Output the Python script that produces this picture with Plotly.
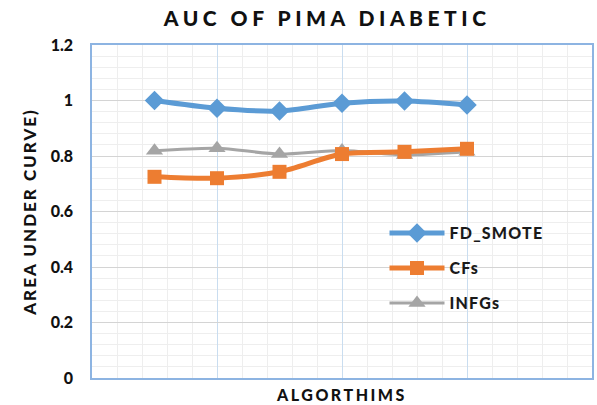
import plotly.graph_objects as go

# AUC scores per algorithm position
positions = [1, 2, 3, 4, 5, 6]
fd_smote = [1.0, 0.972, 0.962, 0.99, 0.998, 0.984]
cfs = [0.725, 0.72, 0.743, 0.807, 0.815, 0.826]
infgs = [0.819, 0.828, 0.807, 0.82, 0.804, 0.815]

y_ticks = [0, 0.2, 0.4, 0.6, 0.8, 1, 1.2]
y_tick_text = ["0", "0.2", "0.4", "0.6", "0.8", "1", "1.2"]

FONT = "Lato"
WEIGHT = 900
BLUE = "#5B9BD5"
ORANGE = "#ED7D31"
GRAY = "#A5A5A5"


def spaced(text, px):
    return f'<span style="letter-spacing:{px}px">{text}</span>'


fig = go.Figure()

fig.add_trace(go.Scatter(
    x=positions, y=infgs, name=spaced("INFGs", 1.2), mode="lines+markers",
    line=dict(color=GRAY, width=3, shape="spline", smoothing=0.8),
    marker=dict(symbol="triangle-up", size=15, color=GRAY),
    legend="legend3",
))
fig.add_trace(go.Scatter(
    x=positions, y=cfs, name=spaced("CFs", 1.2), mode="lines+markers",
    line=dict(color=ORANGE, width=5, shape="spline", smoothing=0.8),
    marker=dict(symbol="square", size=14, color=ORANGE),
    legend="legend2",
))
fig.add_trace(go.Scatter(
    x=positions, y=fd_smote, name=spaced("FD_SMOTE", 1.2), mode="lines+markers",
    line=dict(color=BLUE, width=5, shape="spline", smoothing=0.8),
    marker=dict(symbol="diamond", size=15, color=BLUE),
    legend="legend",
))

legend_common = dict(
    xanchor="left", yanchor="middle", bgcolor="rgba(0,0,0,0)",
    font=dict(family=FONT, size=16, color="#1a1a1a", weight=WEIGHT),
    itemwidth=55,
)

fig.update_layout(
    width=597, height=405,
    margin=dict(l=92, r=3, t=45, b=27),
    paper_bgcolor="white", plot_bgcolor="white",
    showlegend=True,
    title=dict(
        text=spaced("AUC OF PIMA DIABETIC", 4.5),
        x=0.548, xanchor="center", y=0.954, yanchor="middle",
        font=dict(family=FONT, size=21, color="#111111", weight=WEIGHT),
    ),
    legend=dict(x=0.585, y=0.435, **legend_common),
    legend2=dict(x=0.585, y=0.33, **legend_common),
    legend3=dict(x=0.585, y=0.225, **legend_common),
    xaxis=dict(
        range=[0, 8], dtick=2, tick0=0, showticklabels=False, ticks="",
        showgrid=True, gridcolor="#C9DDF0", gridwidth=1,
        minor=dict(dtick=0.4, showgrid=True, gridcolor="#EEEEEE", gridwidth=1),
        showline=True, linecolor="#8DB4E2", linewidth=1.5, mirror=True,
        zeroline=False,
        title=dict(text=spaced("ALGORTHIMS", 2.5), standoff=11,
                   font=dict(family=FONT, size=16, color="#111111", weight=WEIGHT)),
    ),
    yaxis=dict(
        range=[0, 1.2], tickvals=y_ticks, ticktext=y_tick_text,
        showgrid=True, gridcolor="#D4D4D4", gridwidth=1,
        minor=dict(dtick=0.04, showgrid=True, gridcolor="#EEEEEE", gridwidth=1),
        showline=True, linecolor="#8DB4E2", linewidth=1.5, mirror=True,
        zeroline=False, ticks="", ticklabelstandoff=14,
        tickfont=dict(family=FONT, size=16, color="#111111", weight=WEIGHT),
        title=dict(text=spaced("AREA UNDER CURVE)", 2), standoff=10,
                   font=dict(family=FONT, size=17, color="#111111", weight=WEIGHT)),
    ),
)

fig.write_html("out.html")
